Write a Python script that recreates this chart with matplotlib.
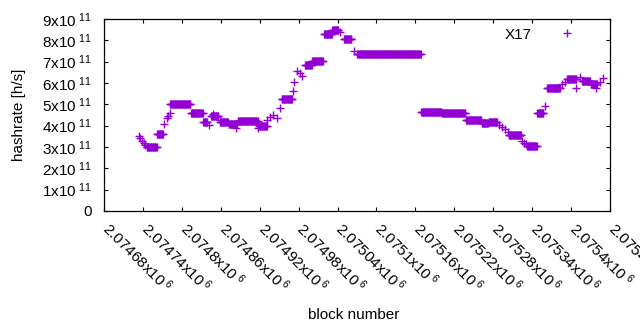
import numpy as np
import matplotlib
matplotlib.use("Agg")
import matplotlib.pyplot as plt
import matplotlib.transforms as mtransforms

plt.rcParams['font.family'] = ['Liberation Sans', 'DejaVu Sans']
plt.rcParams['mathtext.fontset'] = 'custom'
plt.rcParams['mathtext.rm'] = 'Liberation Sans'
plt.rcParams['mathtext.it'] = 'Liberation Sans:italic'

# plateaus: blocks where the estimate stays flat (start, end, hashrate in 1e11 h/s)
plateau_start = [2074746, 2074762, 2074782, 2074814, 2074833, 2074845, 2074859,
                 2074872, 2074886, 2074919, 2074954, 2074990, 2075001, 2075019,
                 2075032, 2075050, 2075070, 2075169, 2075201, 2075238, 2075262,
                 2075273, 2075304, 2075332, 2075348, 2075363, 2075394, 2075417,
                 2075430]
plateau_end = [2074761, 2074771, 2074813, 2074832, 2074839, 2074856, 2074871,
               2074885, 2074917, 2074931, 2074970, 2075000, 2075017, 2075031,
               2075041, 2075061, 2075168, 2075200, 2075237, 2075261, 2075272,
               2075286, 2075323, 2075347, 2075357, 2075383, 2075408, 2075429,
               2075440]
plateau_rate = [3.00, 3.60, 5.00, 4.58, 4.15, 4.45, 4.15,
                4.08, 4.20, 3.98, 5.25, 6.84, 7.04, 8.30,
                8.48, 8.04, 7.36, 4.62, 4.58, 4.27, 4.11,
                4.17, 3.56, 3.05, 4.60, 5.78, 6.17, 6.08,
                5.95]

# single blocks off the plateaus
single_block = [2074734, 2074736, 2074739, 2074741, 2074743, 2074773, 2074777,
                2074779, 2074781, 2074842, 2074848, 2074859, 2074883, 2074917,
                2074931, 2074936, 2074941, 2074947, 2074951, 2074972, 2074973,
                2074977, 2074982, 2074985, 2075044, 2075066, 2075289, 2075294,
                2075298, 2075303, 2075324, 2075327, 2075330, 2075360, 2075375,
                2075386, 2075390, 2075408, 2075414, 2075438, 2075444, 2075449]
single_rate = [3.50, 3.40, 3.30, 3.20, 3.08, 4.10, 4.35,
               4.45, 4.58, 4.03, 4.55, 4.27, 3.90, 3.90,
               4.27, 4.42, 4.50, 4.35, 4.83, 5.64, 6.06,
               6.58, 6.45, 6.34, 8.38, 7.50, 4.05, 3.95,
               3.85, 3.70, 3.30, 3.18, 3.12, 4.92, 5.75,
               5.95, 6.05, 5.75, 6.30, 5.75, 6.06, 6.22]

x_ticks = np.arange(2074680, 2075461, 60)
y_ticks = np.arange(0, 10) * 1e11

blocks = list(single_block)
rates = list(single_rate)
for s, e, r in zip(plateau_start, plateau_end, plateau_rate):
    b = np.arange(s, e + 1)
    blocks += list(b)
    rates += [r] * len(b)
blocks = np.array(blocks)
rates = np.array(rates) * 1e11

fig = plt.figure(figsize=(6.4, 3.3), dpi=100)
ax = fig.add_axes([104 / 640, 119 / 330, 506 / 640, 192 / 330])

ax.plot(blocks, rates, '+', color='#9400d3', ms=5.5, mew=1.0, ls='none', label='X17')

ax.set_xlim(2074680, 2075460)
ax.set_ylim(0, 9e11)
ax.set_xticks(x_ticks)
ax.set_xticklabels([r'%gx10$^{\ 6}$' % (t / 1e6) for t in x_ticks],
                   rotation=-45, ha='left', va='top', rotation_mode='anchor')
ax.set_yticks(y_ticks)
ax.set_yticklabels(['0'] + [r'%dx10$^{\ 11}$' % i for i in range(1, 10)])

ax.tick_params(direction='in', top=True, right=True, length=3.2, width=0.8,
               labelsize=11, colors='black')
ax.tick_params(axis='y', pad=9)
ax.tick_params(axis='x', pad=6)
for sp in ax.spines.values():
    sp.set_linewidth(0.9)

# gnuplot hangs the rotated labels to the right of the tick
shift = mtransforms.ScaledTranslation(0.08, 0, fig.dpi_scale_trans)
for lab in ax.get_xticklabels():
    lab.set_transform(lab.get_transform() + shift)

ax.legend(loc='upper right', bbox_to_anchor=(0.9605, 0.954), frameon=False,
          markerfirst=False, handlelength=3, handletextpad=0.8,
          borderpad=0, borderaxespad=0, fontsize=11)

fig.text(19 / 640, 1 - 115 / 330, 'hashrate [h/s]', rotation=90,
         ha='center', va='center', fontsize=11)
fig.text(354 / 640, 1 - 315 / 330, 'block number', ha='center', va='center',
         fontsize=11)

fig.savefig('out.png', dpi=100)
